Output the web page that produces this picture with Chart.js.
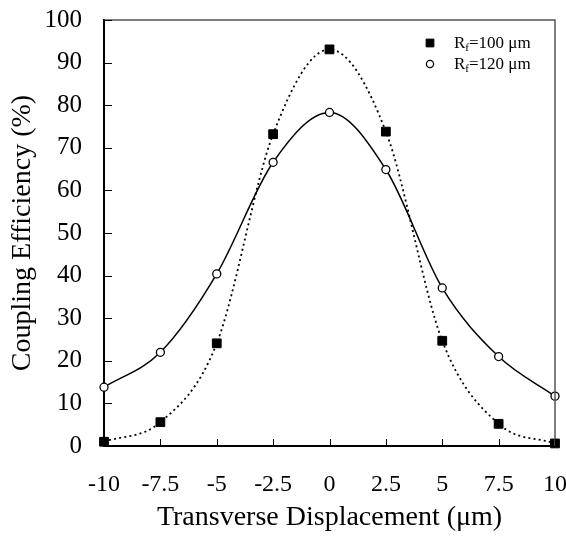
<!DOCTYPE html>
<html>
<head>
<meta charset="utf-8">
<script src="https://cdn.jsdelivr.net/npm/chart.js@4"></script>
<style>
  html, body { margin: 0; padding: 0; background: #fff; }
  canvas { display: block; }
</style>
</head>
<body>
<canvas id="couplingChart" width="566" height="544"></canvas>
<script>
// values
const displacement = [-10, -7.5, -5, -2.5, 0, 2.5, 5, 7.5, 10];
const eff100 = [1.0, 5.6, 24.1, 73.2, 93.1, 73.8, 24.7, 5.2, 0.6];
const eff120 = [13.8, 22.0, 40.4, 66.6, 78.3, 64.9, 37.1, 21.0, 11.7];
const seriesLabels = ['=100 μm', '=120 μm'];
const xTickValues = [-10, -7.5, -5, -2.5, 0, 2.5, 5, 7.5, 10];
const yTickValues = [0, 10, 20, 30, 40, 50, 60, 70, 80, 90, 100];

const serif = '"Liberation Serif", "Times New Roman", serif';

function toPoints(xs, ys) {
    return xs.map((x, i) => ({ x: x, y: ys[i] }));
}

// inward tick marks + grey top/right frame
const frameTicks = {
    id: 'frameTicks',
    afterDatasetsDraw(chart) {
        const { ctx, chartArea: a, scales: { x, y } } = chart;
        ctx.save();
        ctx.strokeStyle = '#555';
        ctx.lineWidth = 1.5;
        ctx.beginPath();
        ctx.moveTo(a.left, a.top);
        ctx.lineTo(a.right, a.top);
        ctx.lineTo(a.right, a.bottom);
        ctx.stroke();

        ctx.strokeStyle = '#000';
        ctx.lineWidth = 1;
        ctx.beginPath();
        yTickValues.forEach(v => {
            const py = Math.round(y.getPixelForValue(v)) + 0.5;
            ctx.moveTo(a.left, py);
            ctx.lineTo(a.left + 8, py);
        });
        xTickValues.forEach(v => {
            const px = Math.round(x.getPixelForValue(v)) + 0.5;
            ctx.moveTo(px, a.bottom);
            ctx.lineTo(px, a.bottom - 7);
        });
        ctx.stroke();
        ctx.restore();
    }
};

// legend with subscript f
const subLegend = {
    id: 'subLegend',
    afterDraw(chart) {
        const ctx = chart.ctx;
        const rows = [43, 64];
        ctx.save();
        ctx.textBaseline = 'alphabetic';
        chart.data.datasets.forEach((ds, i) => {
            const cy = rows[i];
            ctx.fillStyle = ds.pointBackgroundColor;
            ctx.strokeStyle = ds.pointBorderColor;
            ctx.lineWidth = ds.pointBorderWidth;
            Chart.helpers.drawPoint(ctx, {
                pointStyle: ds.pointStyle,
                radius: ds.pointStyle === 'rect' ? 5.5 : 3.6,
                borderWidth: ds.pointBorderWidth,
                rotation: 0
            }, 430, cy);

            ctx.fillStyle = '#000';
            let tx = 454;
            const base = cy + 5;
            ctx.font = '17px ' + serif;
            ctx.fillText('R', tx, base);
            tx += ctx.measureText('R').width;
            ctx.font = '11px ' + serif;
            ctx.fillText('f', tx, base + 3);
            tx += ctx.measureText('f').width;
            ctx.font = '17px ' + serif;
            ctx.fillText(seriesLabels[i], tx, base);
        });
        ctx.restore();
    }
};

new Chart(document.getElementById('couplingChart'), {
    type: 'line',
    data: {
        datasets: [{
            label: 'Rf=100 μm',
            data: toPoints(displacement, eff100),
            borderColor: '#000',
            borderWidth: 1.8,
            borderDash: [2, 3.2],
            cubicInterpolationMode: 'monotone',
            pointStyle: 'rect',
            pointRadius: 6.2,
            pointBackgroundColor: '#000',
            pointBorderColor: '#000',
            pointBorderWidth: 1,
            fill: false
        }, {
            label: 'Rf=120 μm',
            data: toPoints(displacement, eff120),
            borderColor: '#000',
            borderWidth: 1.5,
            cubicInterpolationMode: 'monotone',
            pointStyle: 'circle',
            pointRadius: 4,
            pointBackgroundColor: '#fff',
            pointBorderColor: '#000',
            pointBorderWidth: 1.3,
            fill: false
        }]
    },
    options: {
        responsive: false,
        animation: false,
        devicePixelRatio: 1,
        clip: false,
        layout: { padding: { top: 20, right: 11, bottom: 0, left: 0 } },
        plugins: {
            legend: { display: false },
            tooltip: { enabled: false }
        },
        scales: {
            x: {
                type: 'linear',
                min: -10,
                max: 10,
                afterBuildTicks: scale => {
                    scale.ticks = xTickValues.map(v => ({ value: v }));
                },
                ticks: {
                    color: '#000',
                    padding: 24,
                    autoSkip: false,
                    maxRotation: 0,
                    font: { family: serif, size: 24 },
                    callback: v => String(v)
                },
                grid: { drawOnChartArea: false, drawTicks: false },
                border: { color: '#000', width: 2 },
                title: {
                    display: true,
                    text: 'Transverse Displacement (μm)',
                    color: '#000',
                    font: { family: serif, size: 28 },
                    padding: { top: 0, bottom: 10 }
                },
                afterFit: scale => {
                    scale.height = 98;
                    scale.paddingLeft = 0;
                    scale.paddingRight = 0;
                }
            },
            y: {
                min: 0,
                max: 100,
                afterBuildTicks: scale => {
                    scale.ticks = yTickValues.map(v => ({ value: v }));
                },
                ticks: {
                    color: '#000',
                    padding: 22,
                    font: { family: serif, size: 25 }
                },
                grid: { drawOnChartArea: false, drawTicks: false },
                border: { color: '#000', width: 2 },
                title: {
                    display: true,
                    text: 'Coupling Efficiency (%)',
                    color: '#000',
                    font: { family: serif, size: 28 },
                    padding: { top: 6, bottom: 0 }
                },
                afterFit: scale => {
                    scale.width = 104;
                    scale.paddingTop = 0;
                    scale.paddingBottom = 0;
                }
            }
        }
    },
    plugins: [frameTicks, subLegend]
});
</script>
</body>
</html>
